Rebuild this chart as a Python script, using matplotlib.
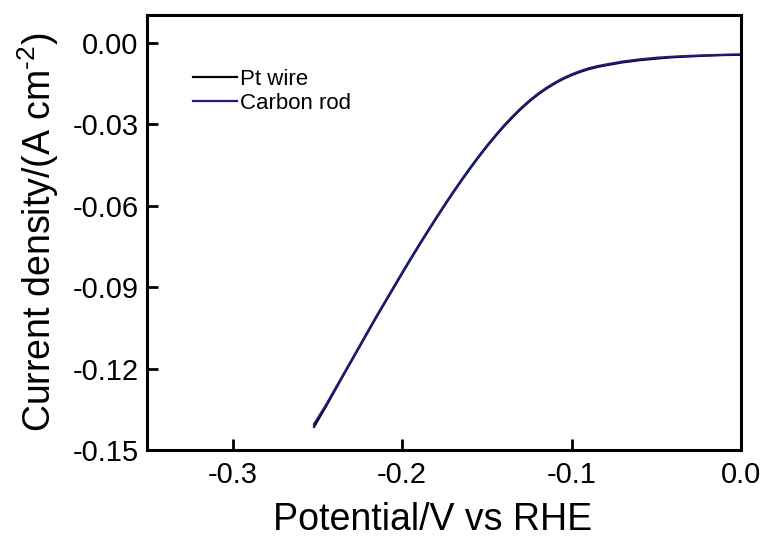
import matplotlib
matplotlib.use("Agg")
import matplotlib.pyplot as plt

plt.rcParams['font.family'] = ['Liberation Sans', 'DejaVu Sans']
plt.rcParams['axes.unicode_minus'] = False
plt.rcParams['mathtext.fontset'] = 'custom'
plt.rcParams['mathtext.rm'] = 'Liberation Sans'
plt.rcParams['mathtext.it'] = 'Liberation Sans'

# potential (V vs RHE) and current density (A cm^-2)
potential = [-0.252, -0.245, -0.240, -0.235, -0.230, -0.225, -0.220, -0.215, -0.210,
             -0.205, -0.200, -0.195, -0.190, -0.185, -0.180, -0.175, -0.170, -0.165,
             -0.160, -0.155, -0.150, -0.145, -0.140, -0.135, -0.130, -0.125, -0.120,
             -0.115, -0.110, -0.105, -0.100, -0.095, -0.090, -0.085, -0.080, -0.070,
             -0.060, -0.050, -0.040, -0.030, -0.020, -0.010, 0.000]
carbon_rod = [-0.1405, -0.1335, -0.1280, -0.1225, -0.1170, -0.1115, -0.1060, -0.1005, -0.0952,
              -0.0899, -0.0846, -0.0794, -0.0743, -0.0693, -0.0644, -0.0596, -0.0549, -0.0504,
              -0.0460, -0.0418, -0.0378, -0.0340, -0.0304, -0.0271, -0.0240, -0.0212, -0.0187,
              -0.0165, -0.0146, -0.0129, -0.0115, -0.0103, -0.0093, -0.0085, -0.0079, -0.0068,
              -0.0060, -0.0054, -0.0050, -0.0047, -0.0045, -0.0043, -0.0042]
pt_wire = [-0.1415, -0.1340, -0.1284, -0.1228, -0.1173, -0.1118, -0.1063, -0.1008, -0.0955,
           -0.0902, -0.0849, -0.0797, -0.0746, -0.0696, -0.0647, -0.0599, -0.0552, -0.0507,
           -0.0463, -0.0421, -0.0381, -0.0343, -0.0307, -0.0274, -0.0243, -0.0215, -0.0190,
           -0.0168, -0.0149, -0.0132, -0.0118, -0.0106, -0.0096, -0.0088, -0.0082, -0.0071,
           -0.0063, -0.0057, -0.0052, -0.0049, -0.0046, -0.0044, -0.0043]

xticks = [-0.3, -0.2, -0.1, 0.0]
yticks = [0.00, -0.03, -0.06, -0.09, -0.12, -0.15]

fig = plt.figure(figsize=(7.65, 5.42), dpi=100)
ax = fig.add_axes([0.192, 0.170, 0.777, 0.802])

ax.plot(potential, pt_wire, color='black', lw=1.6, label='Pt wire')
ax.plot(potential, carbon_rod, color='#1c1c7c', lw=1.6, label='Carbon rod')

ax.set_xlim(-0.3506, 0.0)
ax.set_ylim(-0.15, 0.0103)
ax.set_xticks(xticks)
ax.set_xticklabels(['%.1f' % v for v in xticks])
ax.set_yticks(yticks)
ax.set_yticklabels(['%.2f' % v for v in yticks])

for s in ax.spines.values():
    s.set_linewidth(2.2)
ax.tick_params(direction='in', length=8, width=2, labelsize=21)
ax.tick_params(axis='y', pad=6)
ax.tick_params(axis='x', pad=8)

ax.set_xlabel('Potential/V vs RHE', fontsize=27)
ax.xaxis.set_label_coords(0.48, -0.12)
ax.set_ylabel('Current density/(A cm$^{\\text{-2}}$)', fontsize=27, labelpad=8)

ax.legend(loc='upper left', bbox_to_anchor=(0.077, 0.877), frameon=False,
          fontsize=16, handlelength=2.0, handletextpad=0.15, labelspacing=0.15,
          borderpad=0, borderaxespad=0)

fig.savefig('out.png', dpi=100)
